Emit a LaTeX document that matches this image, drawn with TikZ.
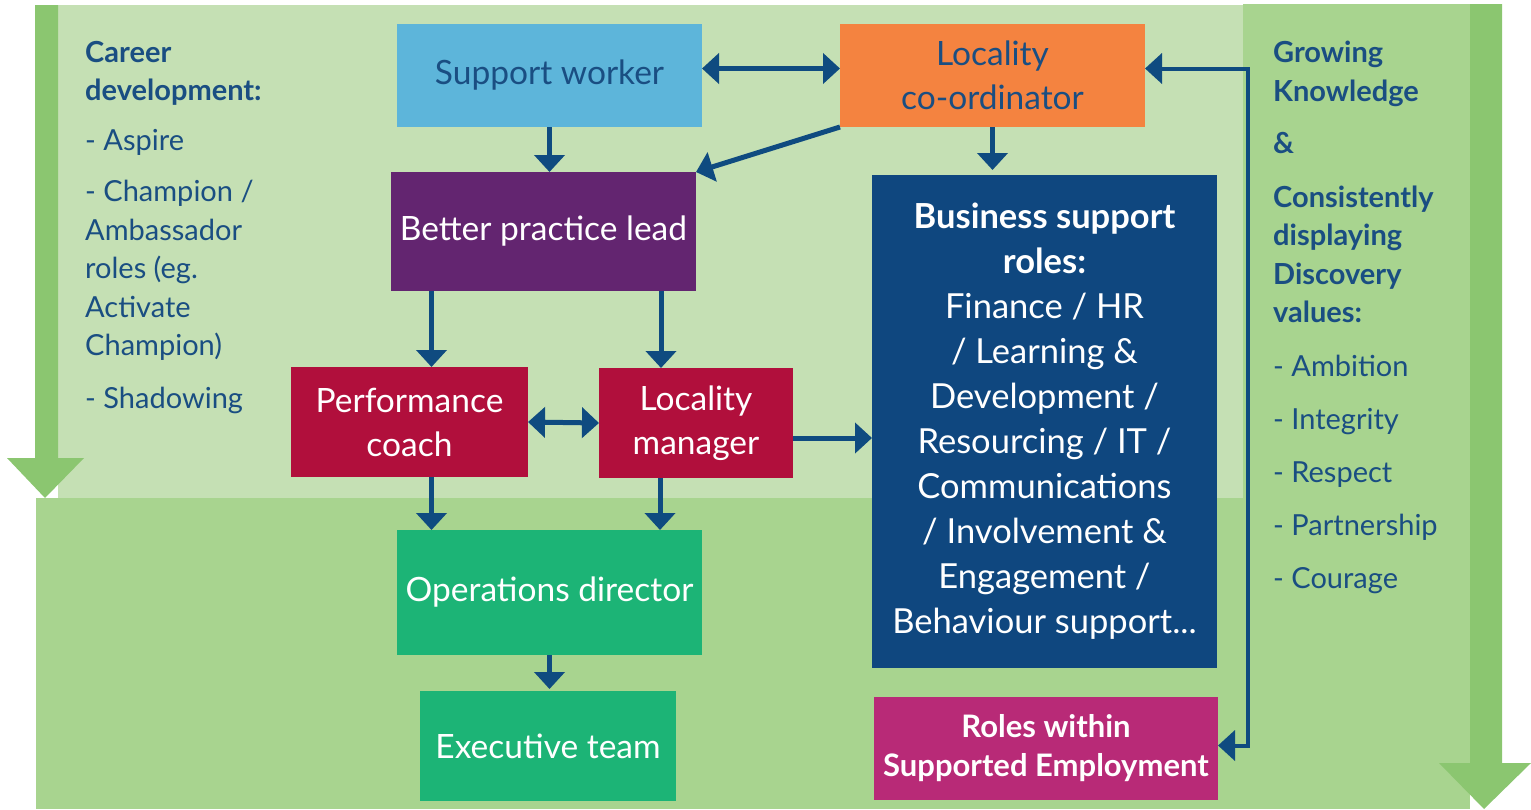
\documentclass[tikz,border=0pt]{standalone}
\usepackage{fontspec}
\setmainfont{Lato}
\usetikzlibrary{arrows.meta,positioning,calc}
\definecolor{paleGreen}{HTML}{C5E0B4}
\definecolor{midGreen}{HTML}{A8D48F}
\definecolor{arrowGreen}{HTML}{8BC670}
\definecolor{linkBlue}{HTML}{0F4B80}
\definecolor{textBlue}{HTML}{1A4E82}
\definecolor{skyBlue}{HTML}{5DB5DA}
\definecolor{orangeBox}{HTML}{F48340}
\definecolor{purpleBox}{HTML}{632570}
\definecolor{crimsonBox}{HTML}{B10F3C}
\definecolor{greenBox}{HTML}{1CB476}
\definecolor{navyBox}{HTML}{0F477F}
\definecolor{magentaBox}{HTML}{B82A77}
\tikzset{
    role/.style={anchor=north west, inner sep=0pt, outer sep=0pt, align=center,
        text=white, font=\fontsize{33.5}{44}\selectfont},
    link/.style={draw=linkBlue, line width=5pt, -{Triangle[width=30pt,length=17pt]}},
    twolink/.style={link, {Triangle[width=30pt,length=17pt]}-{Triangle[width=30pt,length=17pt]}},
    sidetext/.style={anchor=north west, inner sep=0pt, align=left, text=textBlue,
        font=\fontsize{29}{38.5}\selectfont}
}

\begin{document}
\begin{tikzpicture}[x=1pt, y=-1pt]
    \useasboundingbox (0, 0) rectangle (1531, 809);
    % backgrounds
    \fill[midGreen] (36, 498) rectangle (1470, 809);
    \fill[midGreen] (1243, 4) rectangle (1470, 498);
    \fill[paleGreen] (58, 5) rectangle (1243, 498);
    \fill[arrowGreen]
    (35, 5) -- (58, 5) -- (58, 458) -- (84, 458) -- (45, 498) -- (7, 458) -- (35, 458) -- cycle;
    \fill[arrowGreen]
    (1470, 4) -- (1502, 4) -- (1502, 763) -- (1531, 763) -- (1484, 809) -- (1439, 763) -- (1470, 763) -- cycle;

    % side texts
    \node[sidetext] (career) at (85, 41) {\textbf{Career}\\ \textbf{development:}\\[11pt]
        - Aspire\\[13pt] - Champion /\\ Ambassador\\ roles (eg.\\ Activate\\ Champion)\\[14pt] - Shadowing};
    \node[sidetext] (values) at (1273, 41) {\textbf{Growing}\\ \textbf{Knowledge}\\[14pt] \textbf{\&}\\[15pt]
        \textbf{Consistently}\\ \textbf{displaying}\\ \textbf{Discovery}\\ \textbf{values:}\\[15pt]
        - Ambition\\[15pt] - Integrity\\[14pt] - Respect\\[15pt] - Partnership\\[14pt] - Courage};

    % boxes
    \node[role, fill=skyBlue, text=textBlue, minimum width=305pt, minimum height=103pt] (sw) at (397, 24) {Support worker};
    \node[role, fill=orangeBox, text=textBlue, minimum width=305pt, minimum height=103pt] (lco) at (840, 24) {Locality\\ co-ordinator};
    \node[role, fill=purpleBox, minimum width=305pt, minimum height=119pt] (bpl) at (391, 172) {Better practice lead};
    \node[role, fill=crimsonBox, minimum width=237pt, minimum height=110pt] (pc) at (291, 367) {Performance\\ coach};
    \node[role, fill=crimsonBox, minimum width=194pt, minimum height=110pt] (lm) at (599, 368) {Locality\\ manager};
    \node[role, fill=greenBox, minimum width=305pt, minimum height=125pt] (ops) at (397, 530) {Operations director};
    \node[role, fill=greenBox, minimum width=256pt, minimum height=110pt] (exec) at (420, 691) {Executive team};
    \node[role, fill=navyBox, minimum width=345pt, minimum height=493pt, font=\fontsize{34.5}{45}\selectfont] (bsr) at (872, 175)
        {\textbf{Business support}\\ \textbf{roles:}\\ Finance / HR\\ / Learning \&\\ Development /\\ Resourcing / IT /\\
        Communications\\ / Involvement \&\\ Engagement /\\ Behaviour support...};
    \node[role, fill=magentaBox, minimum width=344pt, minimum height=103pt, font=\bfseries\fontsize{31}{39}\selectfont] (rse) at (874, 697)
        {Roles within\\ Supported Employment};

    % connectors
    \coordinate (pcin) at ([xshift=22pt]pc.north);
    \coordinate (lmin) at ([xshift=-35pt]lm.north);
    \coordinate (pcout) at ([xshift=22pt]pc.south);
    \coordinate (lmout) at ([xshift=-36pt]lm.south);
    \coordinate (lmside) at ([yshift=-15pt]lm.east);
    \coordinate (swside) at ([yshift=7pt]sw.east);
    \coordinate (lcoside) at ([yshift=7pt]lco.east);
    \coordinate (rseside) at ([yshift=3pt]rse.east);
    \coordinate (elbow) at (1248, 400);
    \draw[twolink] (swside) -- (swside -| lco.west);
    \draw[link] (sw.south) -- (sw.south |- bpl.north);
    \draw[link] (lco.south west) -- (bpl.north east);
    \draw[link] (lco.south) -- ([yshift=5pt]lco.south |- bsr.north);
    \draw[link] (pcin |- bpl.south) -- (pcin);
    \draw[link] (lmin |- bpl.south) -- (lmin);
    \draw[twolink] (pc.east) -- (lm.west);
    \draw[link] (lmside) -- (lmside -| bsr.west);
    \draw[link] (pcout) -- (pcout |- ops.north);
    \draw[link] (lmout) -- (lmout |- ops.north);
    \draw[link] (ops.south) -- ([yshift=2pt]ops.south |- exec.north);
    \draw[twolink, line width=4pt] (lcoside) -| (elbow) |- (rseside);
\end{tikzpicture}
\end{document}
